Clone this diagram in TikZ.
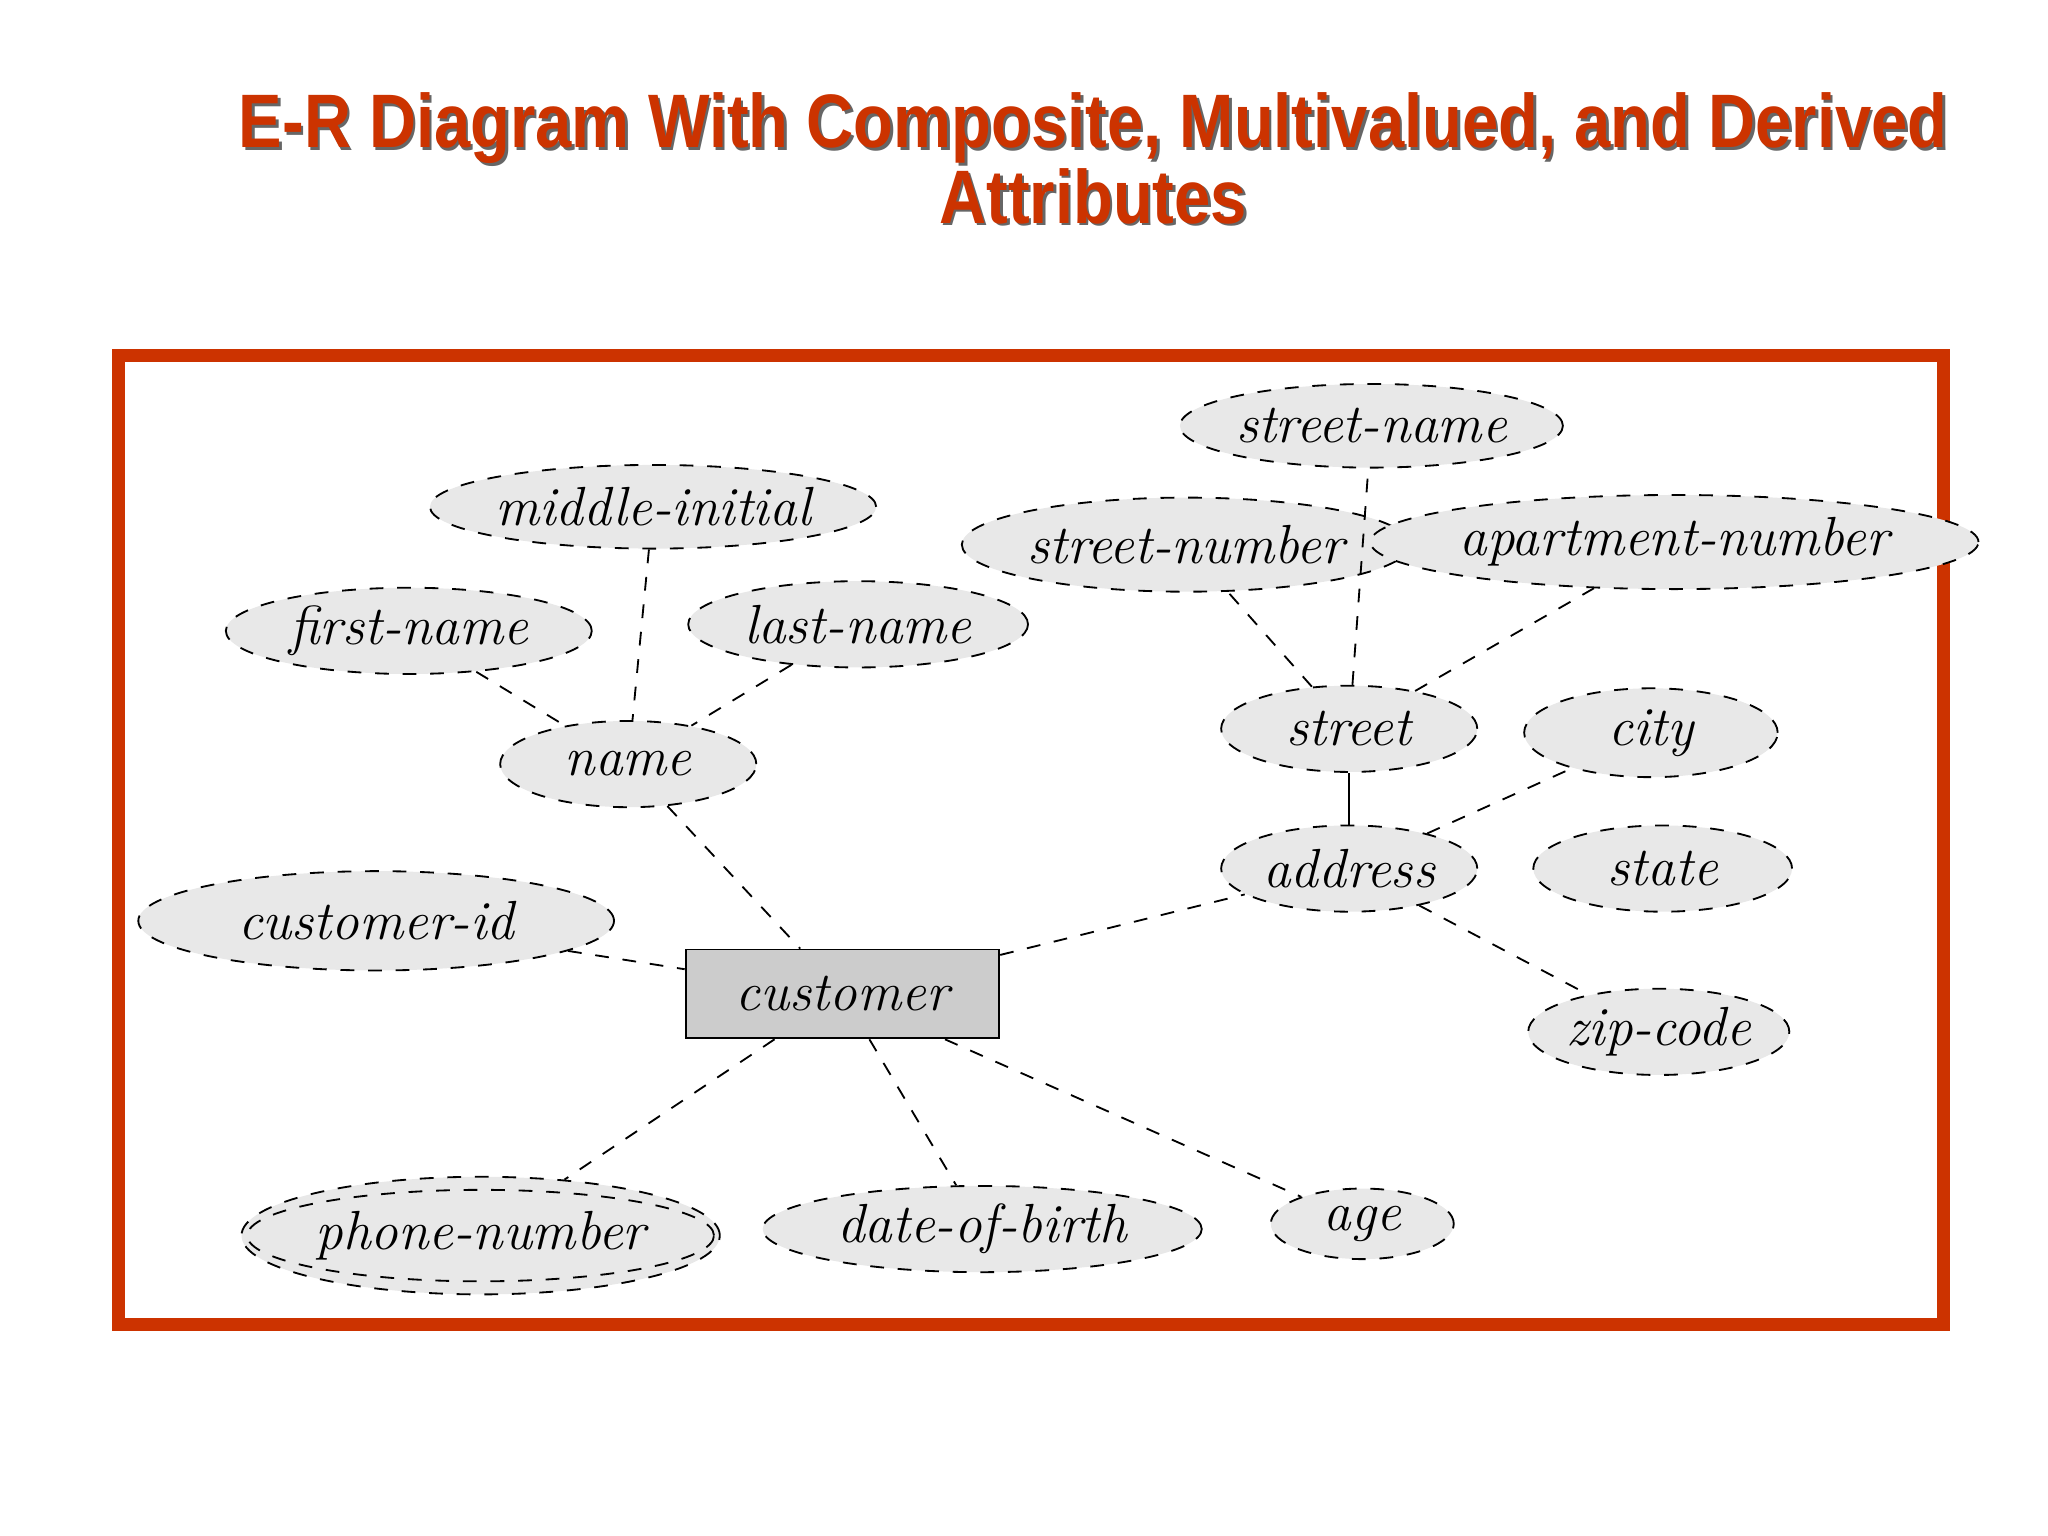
\documentclass[tikz,border=0pt]{standalone}
\usepackage{fontspec}
\newfontfamily\titlefont{Liberation Sans}
\usetikzlibrary{shapes.geometric}
\definecolor{brick}{HTML}{CC3300}
\definecolor{attrfill}{HTML}{E8E8E8}
\definecolor{entfill}{HTML}{CCCCCC}
\begin{document}
\begin{tikzpicture}[x=0.01cm,y=-0.01cm,
  attr/.style={ellipse,draw,dashed,fill=attrfill,inner sep=0pt,font=\fontsize{12}{14}\selectfont\itshape},
  link/.style={dashed,thin},
  titletext/.style={font=\titlefont\bfseries\fontsize{16.5}{19}\selectfont}]
\useasboundingbox (0,0) rectangle (1568,1176);
\foreach \dx/\c in {2/black!60,0/brick}{
 \node[titletext,text=\c] (t1\dx) at (837+\dx,98+\dx) {\scalebox{0.86}[1]{E-R Diagram With Composite, Multivalued, and Derived}};
 \node[titletext,text=\c] (t2\dx) at (837+\dx,150+\dx) {\scalebox{0.86}[1]{Attributes}};
}
\draw[brick,line width=0.1cm] (91,272) rectangle (1488,1014);
\node[attr,minimum width=3.36cm,minimum height=0.64cm] (mi) at (500,388) {middle-initial};
\node[attr,minimum width=2.80cm,minimum height=0.66cm] (fn) at (313,483) {first-name};
\node[attr,minimum width=2.60cm,minimum height=0.66cm] (ln) at (657,478) {last-name};
\node[attr,minimum width=1.96cm,minimum height=0.66cm] (nm) at (481,585) {name};
\node[attr,minimum width=3.64cm,minimum height=0.76cm] (cid) at (288,705) {customer-id};
\node[draw,fill=entfill,minimum width=2.40cm,minimum height=0.68cm,inner sep=0pt,font=\fontsize{12}{14}\selectfont\itshape] (cu) at (645,761) {customer};
\node[attr,minimum width=2.70cm,minimum height=0.64cm] (sn) at (1050,326) {street-name};
\node[attr,minimum width=3.14cm,minimum height=0.72cm] (snum) at (908,417) {street-number};
\node[attr,minimum width=3.80cm,minimum height=0.72cm] (apt) at (1282,415) {apartment-number};
\node[attr,minimum width=1.96cm,minimum height=0.66cm] (st) at (1033,558) {street};
\node[attr,minimum width=1.94cm,minimum height=0.68cm] (city) at (1264,561) {city};
\node[attr,minimum width=1.96cm,minimum height=0.66cm] (ad) at (1033,665) {address};
\node[attr,minimum width=1.98cm,minimum height=0.66cm] (state) at (1273,665) {state};
\node[attr,minimum width=1.96cm,minimum height=0.66cm] (zip) at (1270,790) {zip-code};
\node[attr,minimum width=3.66cm,minimum height=0.90cm] (ph) at (368,946) {};
\node[ellipse,draw,dashed,inner sep=0pt,minimum width=3.36cm,minimum height=0.70cm,font=\fontsize{12}{14}\selectfont\itshape] (phi) at (368,946) {phone-number};
\node[attr,minimum width=3.36cm,minimum height=0.66cm] (dob) at (752,941) {date-of-birth};
\node[attr,minimum width=1.40cm,minimum height=0.54cm] (age) at (1043,937) {age};
\draw[link] (fn) -- (nm);
\draw[link] (mi) -- (nm);
\draw[link] (ln) -- (nm);
\draw[link] (nm) -- (cu);
\draw[link] (cid) -- (cu);
\draw[link] (cu) -- (ad);
\draw[link] (cu) -- (ph);
\draw[link] (cu) -- (dob);
\draw[link] (cu) -- (age);
\draw (ad) -- (st);
\draw[link] (ad) -- (city);
\draw[link] (ad) -- (zip);
\draw[link] (st) -- (snum);
\draw[link] (st) -- (sn);
\draw[link] (st) -- (apt);
\end{tikzpicture}
\end{document}
